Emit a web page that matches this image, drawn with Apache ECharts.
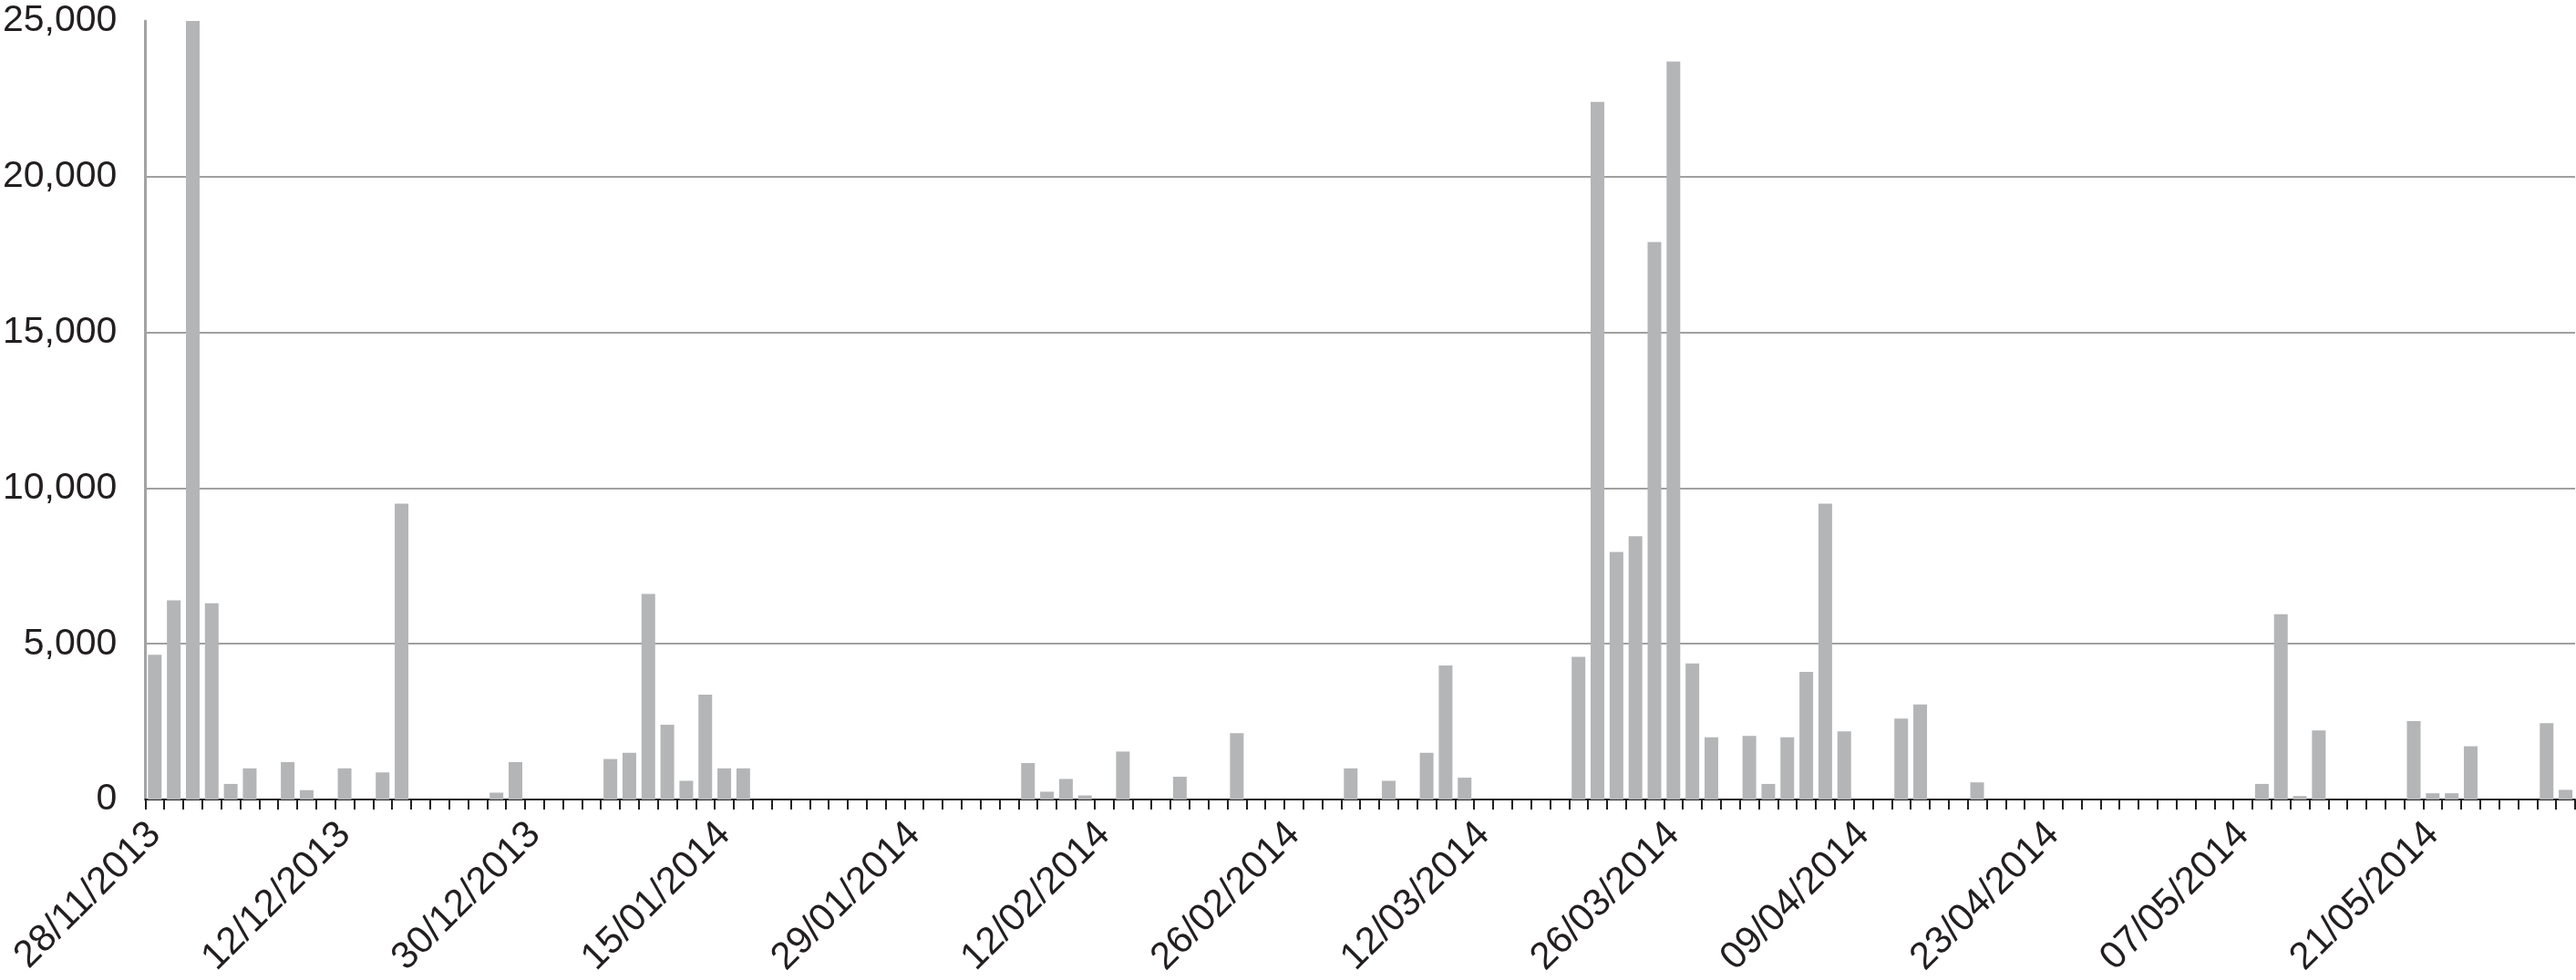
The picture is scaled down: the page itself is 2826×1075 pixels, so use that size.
<!DOCTYPE html>
<html><head><meta charset="utf-8">
<script src="https://cdn.jsdelivr.net/npm/echarts@6/dist/echarts.min.js"></script>
<style>html,body{margin:0;padding:0;background:#fff}#c{width:2826px;height:1075px}</style>
</head><body><div id="c"></div>
<script>
const categories = [
 "28/11/2013","29/11/2013",
 "02/12/2013","03/12/2013","04/12/2013","05/12/2013","06/12/2013",
 "09/12/2013","10/12/2013","11/12/2013","12/12/2013","13/12/2013",
 "16/12/2013","17/12/2013","18/12/2013","19/12/2013","20/12/2013",
 "23/12/2013","24/12/2013","27/12/2013","30/12/2013","31/12/2013",
 "03/01/2014","06/01/2014","07/01/2014","08/01/2014","09/01/2014","10/01/2014",
 "13/01/2014","14/01/2014","15/01/2014","16/01/2014","17/01/2014",
 "20/01/2014","21/01/2014","22/01/2014","23/01/2014","24/01/2014",
 "27/01/2014","28/01/2014","29/01/2014","30/01/2014","31/01/2014",
 "03/02/2014","04/02/2014","05/02/2014","06/02/2014","07/02/2014",
 "10/02/2014","11/02/2014","12/02/2014","13/02/2014","14/02/2014",
 "17/02/2014","18/02/2014","19/02/2014","20/02/2014","21/02/2014",
 "24/02/2014","25/02/2014","26/02/2014","27/02/2014","28/02/2014",
 "03/03/2014","04/03/2014","05/03/2014","06/03/2014","07/03/2014",
 "10/03/2014","11/03/2014","12/03/2014","13/03/2014","14/03/2014",
 "17/03/2014","18/03/2014","19/03/2014","20/03/2014","21/03/2014",
 "24/03/2014","25/03/2014","26/03/2014","27/03/2014","28/03/2014","31/03/2014",
 "01/04/2014","02/04/2014","03/04/2014","04/04/2014",
 "07/04/2014","08/04/2014","09/04/2014","10/04/2014","11/04/2014",
 "14/04/2014","15/04/2014","16/04/2014","17/04/2014","18/04/2014",
 "21/04/2014","22/04/2014","23/04/2014","24/04/2014","25/04/2014",
 "28/04/2014","29/04/2014","30/04/2014","01/05/2014","02/05/2014",
 "05/05/2014","06/05/2014","07/05/2014","08/05/2014","09/05/2014",
 "12/05/2014","13/05/2014","14/05/2014","15/05/2014","16/05/2014",
 "19/05/2014","20/05/2014","21/05/2014","22/05/2014","23/05/2014",
 "26/05/2014","27/05/2014","28/05/2014","29/05/2014","30/05/2014"
];
const values = [
 4650,6400,25000,6300,500,1000,0,1200,300,0,
 1000,0,870,9500,0,0,0,0,220,1200,
 0,0,0,0,1300,1500,6600,2400,600,3370,
 1000,1000,0,0,0,0,0,0,0,0,
 0,0,0,0,0,0,1170,250,660,130,
 0,1540,0,0,730,0,0,2130,0,0,
 0,0,0,1000,0,600,0,1500,4300,700,
 0,0,0,0,0,4580,22400,7950,8450,17900,
 23700,4370,2000,0,2040,500,2000,4100,9500,2190,
 0,0,2600,3050,0,0,550,0,0,0,
 0,0,0,0,0,0,0,0,0,0,
 0,500,5950,110,2220,0,0,0,0,2520,
 200,200,1710,0,0,0,2450,310
];
const yTicks = [0, 5000, 10000, 15000, 20000, 25000];

const chart = echarts.init(document.getElementById('c'), null, {renderer: 'canvas'});
const font = "'Liberation Sans', Arial, Helvetica, sans-serif";
chart.setOption({
  animation: false,
  grid: {left: 154, right: 1, top: 23, bottom: 198, containLabel: false},
  xAxis: {
    type: 'category',
    data: categories,
    boundaryGap: true,
    axisLine: {show: true, lineStyle: {color: '#231f20', width: 2}},
    axisTick: {show: true, interval: 0, length: 11, lineStyle: {color: '#231f20', width: 2}},
    axisLabel: {interval: 9, rotate: 45, margin: 32, color: '#231f20', fontSize: 42, fontFamily: font},
    splitLine: {show: false}
  },
  yAxis: {
    type: 'value',
    min: yTicks[0], max: yTicks[yTicks.length - 1], interval: 5000,
    axisLine: {show: true, lineStyle: {color: '#a3a3a3', width: 3}},
    axisTick: {show: false},
    axisLabel: {margin: 31, color: '#231f20', fontSize: 41, fontFamily: font,
      formatter: v => v.toLocaleString('en-US')},
    splitLine: {show: true, showMaxLine: false, lineStyle: {color: '#a0a0a0', width: 2}}
  },
  series: [{
    type: 'bar',
    data: values,
    barCategoryGap: '28%',
    itemStyle: {color: '#b3b5b7'}
  }]
});
</script></body></html>
